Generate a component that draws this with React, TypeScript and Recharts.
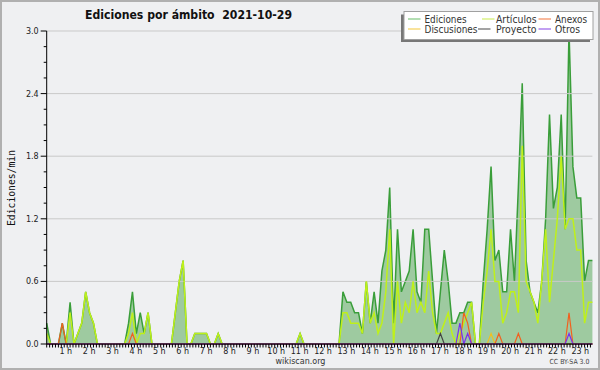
import { ComposedChart, Area, Line, XAxis, YAxis, ReferenceLine } from "recharts";

// ediciones por minuto, promedio de cada 10 min (00:00 .. 23:20)
const ediciones = [
  0.2, 0, 0, 0, 0.2, 0, 0.4, 0, 0.1, 0.2, 0.5, 0.3,
  0.2, 0, 0, 0, 0, 0, 0, 0, 0, 0.2, 0.5, 0.1,
  0.3, 0.1, 0.3, 0, 0, 0, 0, 0, 0, 0.3, 0.6, 0.8,
  0, 0, 0.1, 0.1, 0.1, 0.1, 0, 0, 0.1, 0, 0, 0,
  0, 0, 0, 0, 0, 0, 0, 0, 0, 0, 0, 0,
  0, 0, 0, 0, 0, 0.1, 0, 0, 0, 0, 0, 0,
  0, 0, 0, 0, 0.5, 0.4, 0.4, 0.3, 0.3, 0.1, 0.6, 0.2,
  0.5, 0.2, 0.7, 0.9, 1.5, 0.2, 1.1, 0.5, 0.6, 0.7, 1.1, 0.5,
  0.4, 1.1, 1.1, 0.6, 0.1, 0.5, 0.9, 0.6, 0.2, 0.2, 0.3, 0.3,
  0.4, 0.4, 0, 0, 0.6, 1.1, 1.7, 0.8, 0.9, 0.5, 0.5, 1.1,
  0.6, 1.5, 2.5, 0.8, 0.5, 0.4, 0.3, 0.6, 1.2, 2.2, 1.3, 1.5,
  2.2, 1.1, 3.0, 1.7, 1.4, 1.4, 0.6, 0.8, 0.8,
];

const articulos = [
  0.1, 0, 0, 0, 0, 0, 0.3, 0, 0.1, 0.2, 0.5, 0.3,
  0.2, 0, 0, 0, 0, 0, 0, 0, 0, 0.1, 0.3, 0,
  0.1, 0.1, 0.3, 0, 0, 0, 0, 0, 0, 0.3, 0.6, 0.8,
  0, 0, 0.1, 0.1, 0.1, 0.1, 0, 0, 0.1, 0, 0, 0,
  0, 0, 0, 0, 0, 0, 0, 0, 0, 0, 0, 0,
  0, 0, 0, 0, 0, 0.1, 0, 0, 0, 0, 0, 0,
  0, 0, 0, 0, 0.3, 0.3, 0.2, 0.2, 0.2, 0.1, 0.6, 0.2,
  0.3, 0.1, 0.2, 0.5, 1.1, 0, 0.6, 0.2, 0.4, 0.3, 0.6, 0.3,
  0.4, 0.3, 0.7, 0.3, 0.1, 0.1, 0.2, 0.3, 0.1, 0, 0.1, 0.2,
  0.3, 0.4, 0, 0, 0.4, 0.7, 1.1, 0.6, 0.6, 0.2, 0.3, 0.5,
  0.5, 0.3, 1.9, 0.6, 0.5, 0.4, 0.2, 0.6, 1.1, 0.4, 0.8, 1.2,
  1.8, 1.1, 1.2, 1.2, 0.9, 0.9, 0.2, 0.4, 0.4,
];

// series casi vacías: [índice, valor]
const anexos = [[4, 0.2], [22, 0.1], [107, 0.3], [108, 0.2], [116, 0.1], [121, 0.1], [134, 0.3]];
const discusiones = [[114, 0.1]];
const proyecto = [[101, 0.1]];
const otros = [[106, 0.2], [108, 0.1], [134, 0.1]];

const hours = [1, 2, 3, 4, 5, 6, 7, 8, 9, 10, 11, 12, 13, 14, 15, 16, 17, 18, 19, 20, 21, 22, 23];
const yMajor = [0, 0.6, 1.2, 1.8, 2.4, 3.0];

const pick = (pts: number[][], i: number) => {
  const f = pts.find((p) => p[0] === i);
  return f ? f[1] : 0;
};

const data = ediciones.map((v, i) => ({
  t: i,
  ediciones: v,
  articulos: articulos[i],
  anexos: pick(anexos, i),
  discusiones: pick(discusiones, i),
  proyecto: pick(proyecto, i),
  otros: pick(otros, i),
}));

const last = ediciones.length - 1;
const xTicks: number[] = [];
for (let k = 0; k * 0.75 <= last; k++) xTicks.push(k * 0.75);
const yTicks: number[] = [];
for (let k = 0; k <= 20; k++) yTicks.push(Math.round(k * 15) / 100);

const font = "'DejaVu Sans', sans-serif";

function XTick(props: any) {
  const { x, y, payload } = props;
  const h = payload.value / 6;
  const isHour = Math.abs(h - Math.round(h)) < 1e-6 && hours.includes(Math.round(h));
  return (
    <g>
      <line x1={x} x2={x} y1={y} y2={y + 3.5} stroke="#000" strokeWidth={1} />
      {isHour && (
        <text x={x - 4.3} y={y + 10} textAnchor="middle" fontFamily={font} fontSize={8} fill="#222">
          {Math.round(h) + " h"}
        </text>
      )}
    </g>
  );
}

function YTick(props: any) {
  const { x, y, payload } = props;
  const v = payload.value;
  const major = yMajor.some((m) => Math.abs(m - v) < 1e-6);
  return (
    <g>
      <line x1={x - (major ? 6 : 3)} x2={x} y1={y} y2={y} stroke="#000" strokeWidth={1} />
      {major && (
        <text x={x - 8} y={y + 3} textAnchor="end" fontFamily={font} fontSize={8} fill="#222">
          {v.toFixed(1)}
        </text>
      )}
    </g>
  );
}

const legendItems = [
  { name: "Ediciones", color: "#80c880", lx: 408, tx: 424.5, y: 19, w: 42 },
  { name: "Artículos", color: "#d2ee6a", lx: 482, tx: 496, y: 19, w: 40.5 },
  { name: "Anexos", color: "#f58a5c", lx: 538.5, tx: 555, y: 19, w: 32 },
  { name: "Discusiones", color: "#f5d05a", lx: 408, tx: 424.5, y: 29, w: 53 },
  { name: "Proyecto", color: "#666666", lx: 478, tx: 496, y: 29, w: 40.5 },
  { name: "Otros", color: "#9a62ea", lx: 538.5, tx: 555, y: 29, w: 25 },
];

export default function App() {
  return (
    <div style={{ position: "absolute", left: 0, top: 0, width: 600, height: 370, background: "#eff0f2" }}>
      <ComposedChart width={600} height={370} data={data} margin={{ top: 31, right: 7.6, bottom: 0, left: 0 }}>
        {yMajor.slice(1).map((v) => (
          <ReferenceLine key={v} y={v} stroke="#c9c9c9" strokeWidth={1} />
        ))}
        <Area
          type="linear"
          dataKey="ediciones"
          stroke="#3a9e3a"
          strokeWidth={1.5}
          fill="#3c9c3c"
          fillOpacity={0.45}
          dot={false}
          isAnimationActive={false}
        />
        <Line type="linear" dataKey="articulos" stroke="#bff01a" strokeWidth={1.5} dot={false} isAnimationActive={false} />
        <Line type="linear" dataKey="discusiones" stroke="#f0c020" strokeWidth={1.2} dot={false} isAnimationActive={false} />
        <Line type="linear" dataKey="proyecto" stroke="#444444" strokeWidth={1.2} dot={false} isAnimationActive={false} />
        <Line type="linear" dataKey="anexos" stroke="#f2601e" strokeWidth={1.2} dot={false} isAnimationActive={false} />
        <Line type="linear" dataKey="otros" stroke="#7a30ee" strokeWidth={1.2} dot={false} isAnimationActive={false} />
        <XAxis
          dataKey="t"
          type="number"
          domain={[0, last]}
          ticks={xTicks}
          interval={0}
          height={26}
          tickSize={0}
          tickMargin={0}
          tickLine={false}
          axisLine={{ stroke: "#000" }}
          tick={(p: any) => <XTick {...p} />}
        />
        <YAxis
          type="number"
          domain={[0, 3]}
          ticks={yTicks}
          interval={0}
          width={46.7}
          tickSize={0}
          tickMargin={0}
          tickLine={false}
          axisLine={{ stroke: "#000" }}
          tick={(p: any) => <YTick {...p} />}
        />
      </ComposedChart>
      <svg width={600} height={370} style={{ position: "absolute", left: 0, top: 0, pointerEvents: "none" }}>
        <rect x={1} y={1} width={598} height={368} fill="none" stroke="#b0b0b0" strokeWidth={2} />
        <text
          x={85}
          y={18.5}
          fontFamily={font}
          fontWeight="bold"
          fontSize={12.5}
          fill="#111"
          textLength={207}
          lengthAdjust="spacingAndGlyphs"
          style={{ whiteSpace: "pre" }}
        >
          {"Ediciones por ámbito  2021-10-29"}
        </text>
        <text
          x={15}
          y={188}
          transform="rotate(-90 15 188)"
          textAnchor="middle"
          fontFamily="'DejaVu Sans Mono', monospace"
          fontSize={10}
          fill="#111"
          textLength={76}
          lengthAdjust="spacingAndGlyphs"
        >
          Ediciones/min
        </text>
        <rect x={401} y={14.5} width={189} height={27.5} fill="#777" />
        <rect x={404} y={11.5} width={189} height={28} fill="#fff" stroke="#a0a0a0" strokeWidth={1} />
        {legendItems.map((it) => (
          <g key={it.name}>
            <line x1={it.lx} x2={it.lx + 12.5} y1={it.y} y2={it.y} stroke={it.color} strokeWidth={1.2} />
            <text
              x={it.tx}
              y={it.y + 3.6}
              fontFamily={font}
              fontSize={10}
              fill="#333"
              textLength={it.w}
              lengthAdjust="spacingAndGlyphs"
            >
              {it.name}
            </text>
          </g>
        ))}
        <text x={300.5} y={364} textAnchor="middle" fontFamily={font} fontSize={8} fill="#333">
          wikiscan.org
        </text>
        <text
          x={549.5}
          y={364}
          fontFamily={font}
          fontSize={7}
          fill="#444"
          textLength={40}
          lengthAdjust="spacingAndGlyphs"
        >
          CC BY-SA 3.0
        </text>
      </svg>
    </div>
  );
}
